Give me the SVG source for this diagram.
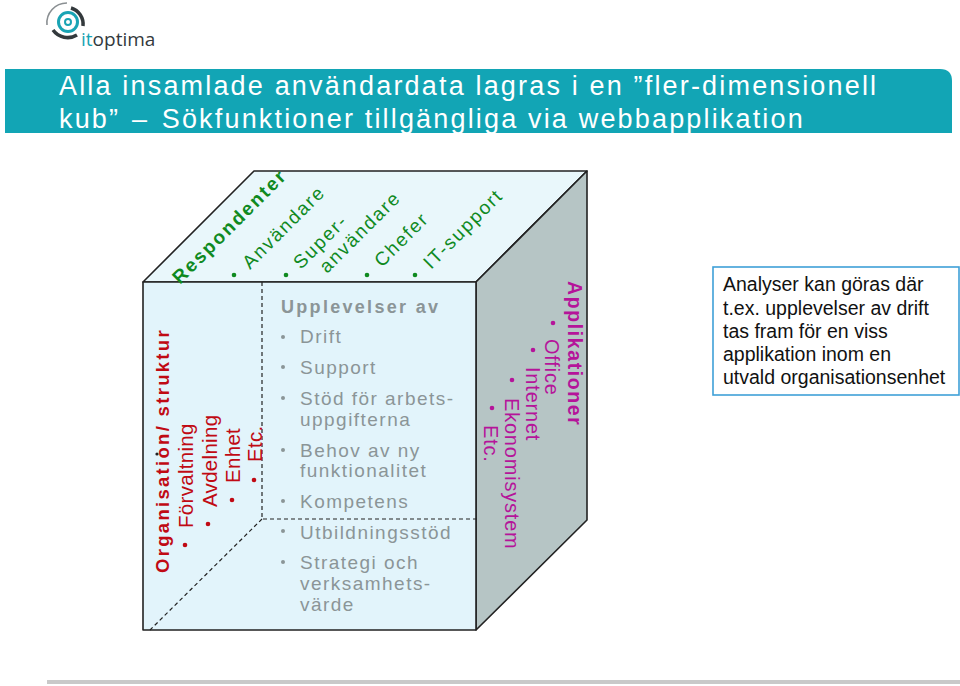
<svg xmlns="http://www.w3.org/2000/svg" width="960" height="686" viewBox="0 0 960 686">
<style>
text{font-family:"Liberation Sans",Arial,sans-serif}
.ban{font-size:27px;fill:#fff;letter-spacing:2.17px}
.cube{stroke:#222;stroke-width:1.6;stroke-linejoin:round}
.dash{fill:none;stroke:#222;stroke-width:1.2;stroke-dasharray:4 3}
.g{fill:#0f8a1f;font-size:19px;letter-spacing:1.8px}
.gb{fill:#0f8a1f;font-size:19px;font-weight:bold;letter-spacing:2.1px}
.r{fill:#c00a14;font-size:20.5px;letter-spacing:.3px}
.rb{fill:#c00a14;font-size:18.5px;font-weight:bold;letter-spacing:2.3px}
.m{fill:#b5149a;font-size:20px;letter-spacing:.8px}
.mb{fill:#b5149a;font-size:19.5px;font-weight:bold;letter-spacing:1.6px}
.t{fill:#8b9597;font-size:19px;letter-spacing:1.47px}
.tb{fill:#8b9597;font-size:18px;font-weight:bold;letter-spacing:2.3px}
.n{fill:#111;font-size:19.5px}
</style>
<rect width="960" height="686" fill="#fff"/>
<g id="logo" fill="none">
<path d="M47 25A20 20 0 0 1 67 3" stroke="#8a8f92" stroke-width="1.6"/>
<path d="M71 8A17 17 0 0 1 83 26" stroke="#33393c" stroke-width="3.5"/>
<path d="M77 35A18 18 0 0 1 53 30" stroke="#33393c" stroke-width="3.5"/>
<circle cx="68" cy="22" r="9.5" stroke="#19a4b4" stroke-width="3"/>
<circle cx="68" cy="22" r="3" stroke="#19a4b4" stroke-width="2"/>
<text x="81" y="46" style="font-family:'Open Sans',sans-serif;font-size:19px;fill:#33393c"><tspan fill="#19a4b4">it</tspan>optima</text>
</g>
<g id="banner">
<path d="M5 69H940Q952 69 952 81V133H5Z" fill="#12a5b5"/>
<text class="ban" x="59" y="95">Alla insamlade användardata lagras i en ”fler-dimensionell</text>
<text class="ban" x="59" y="128">kub” <tspan dx="2">–</tspan> <tspan dx="3">Sökfunktioner</tspan> tillgängliga via webbapplikation</text>
</g>
<g id="cube">
<polygon class="cube" points="143,282 254,171 587,171 476,282" fill="#e9f7fb"/>
<polygon class="cube" points="476,282 587,171 587,520 476,630" fill="#b6c5c5"/>
<rect class="cube" x="143" y="282" width="333" height="348" fill="#e2f4fb"/>
</g>
<g id="connectors">
<path class="dash" d="M262 282V519H480"/>
<path class="dash" d="M262 519L150 630"/>
</g>
<g id="respondenter">
<text class="gb" transform="translate(180,285) rotate(-45)">Respondenter</text>
<circle cx="234" cy="275" r="2.3" fill="#0f8a1f"/><text class="g" transform="translate(250,270) rotate(-45)">Användare</text>
<circle cx="286" cy="275" r="2.3" fill="#0f8a1f"/><text class="g" transform="translate(301,270) rotate(-45)">Super-</text>
<text class="g" transform="translate(327,274) rotate(-45)">användare</text>
<circle cx="367" cy="275" r="2.3" fill="#0f8a1f"/><text class="g" transform="translate(382,268) rotate(-45)">Chefer</text>
<circle cx="415" cy="275" r="2.3" fill="#0f8a1f"/><text class="g" transform="translate(431,270) rotate(-45)">IT-support</text>
</g>
<g id="organisation">
<text class="rb" transform="translate(169,573) rotate(-90)">Organisation/ struktur</text>
<circle cx="157" cy="454" r="1.6" fill="#222"/>
<circle cx="185" cy="545" r="2.3" fill="#c00a14"/><text class="r" transform="translate(193,528) rotate(-90)">Förvaltning</text>
<circle cx="208" cy="524" r="2.3" fill="#c00a14"/><text class="r" transform="translate(217,507) rotate(-90)">Avdelning</text>
<circle cx="232" cy="500" r="2.3" fill="#c00a14"/><text class="r" transform="translate(240,483) rotate(-90)">Enhet</text>
<circle cx="254" cy="480" r="2.3" fill="#c00a14"/><text class="r" transform="translate(262,462) rotate(-90)">Etc.</text>
</g>
<g id="upplevelser">
<text class="tb" x="281" y="313">Upplevelser av</text>
<circle cx="283" cy="337" r="2" fill="#8b9597"/><text class="t" x="300" y="343">Drift</text>
<circle cx="283" cy="367" r="2" fill="#8b9597"/><text class="t" x="300" y="374">Support</text>
<circle cx="283" cy="398" r="2" fill="#8b9597"/><text class="t" x="300" y="405">Stöd för arbets-</text>
<text class="t" x="300" y="426">uppgifterna</text>
<circle cx="283" cy="450" r="2" fill="#8b9597"/><text class="t" x="300" y="457">Behov av ny</text>
<text class="t" x="300" y="477">funktionalitet</text>
<circle cx="283" cy="501" r="2" fill="#8b9597"/><text class="t" x="300" y="508">Kompetens</text>
<circle cx="283" cy="531" r="2" fill="#8b9597"/><text class="t" x="300" y="539">Utbildningsstöd</text>
<circle cx="283" cy="562" r="2" fill="#8b9597"/><text class="t" x="300" y="569">Strategi och</text>
<text class="t" x="300" y="590">verksamhets-</text>
<text class="t" x="300" y="611">värde</text>
</g>
<g id="applikationer">
<text class="mb" transform="translate(568,281) rotate(90)">Applikationer</text>
<circle cx="553" cy="323" r="2.3" fill="#b5149a"/><text class="m" transform="translate(545,339) rotate(90)">Office</text>
<circle cx="533" cy="350" r="2.3" fill="#b5149a"/><text class="m" transform="translate(526,367) rotate(90)">Internet</text>
<circle cx="512" cy="380" r="2.3" fill="#b5149a"/><text class="m" transform="translate(505,398) rotate(90)">Ekonomisystem</text>
<circle cx="492" cy="408" r="2.3" fill="#b5149a"/><text class="m" transform="translate(484,425) rotate(90)">Etc.</text>
</g>
<g id="analyser">
<rect x="713" y="267" width="246" height="128" fill="#fff" stroke="#3fa0d8" stroke-width="1.6"/>
<text class="n" x="723" y="291">Analyser kan göras där</text>
<text class="n" x="723" y="315">t.ex. upplevelser av drift</text>
<text class="n" x="723" y="338">tas fram för en viss</text>
<text class="n" x="723" y="361">applikation inom en</text>
<text class="n" x="723" y="384">utvald organisationsenhet</text>
</g>
<rect id="footer-line" x="47" y="680" width="913" height="4" fill="#c9c9c9"/>
</svg>
